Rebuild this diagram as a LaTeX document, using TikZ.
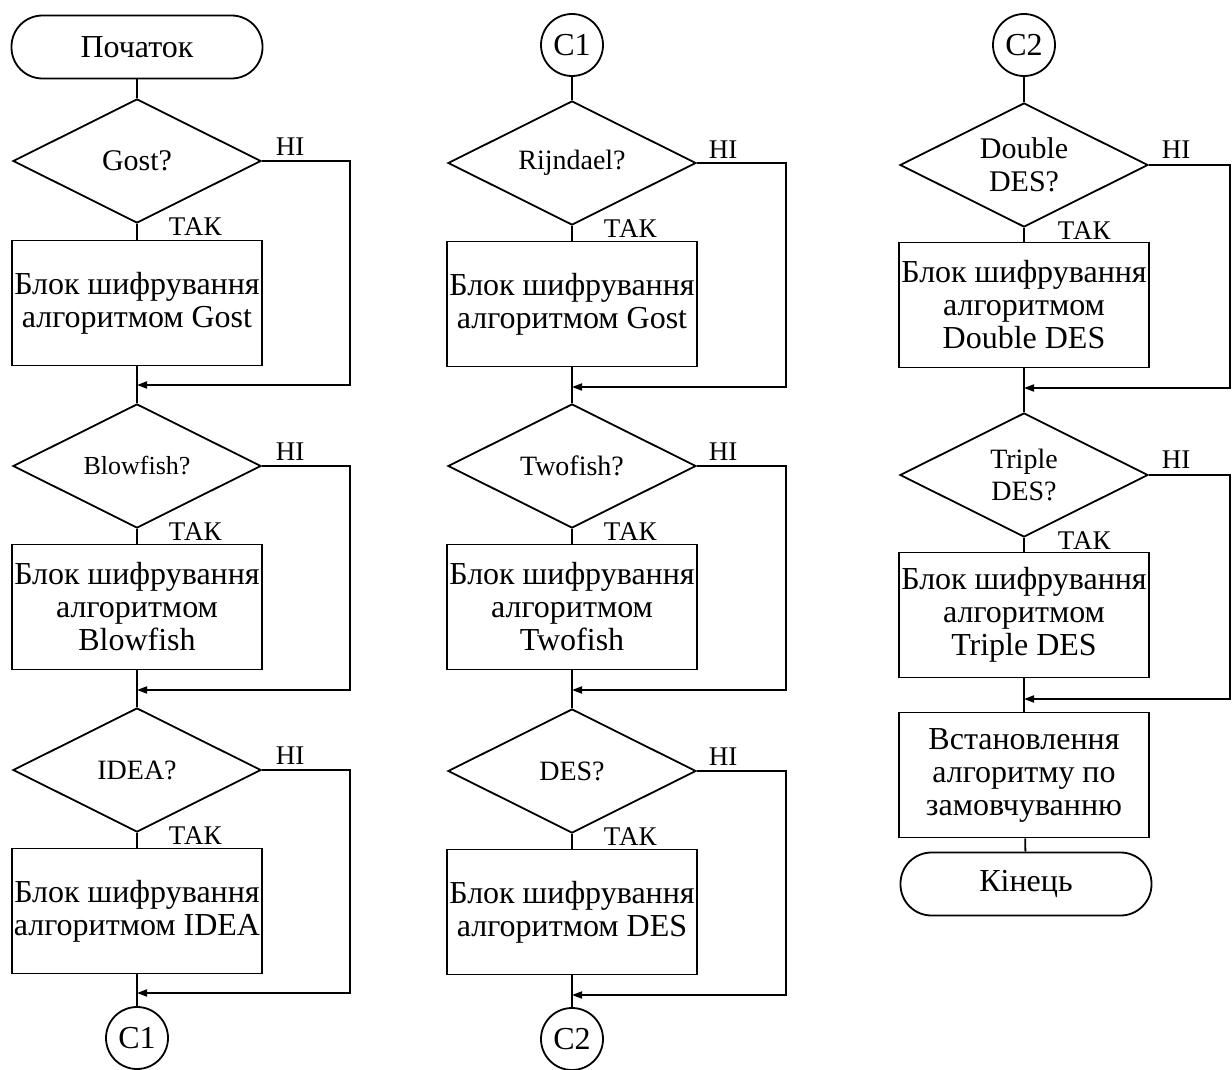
\documentclass[tikz,border=0pt]{standalone}
\usepackage{fontspec}
\setmainfont{Liberation Serif}
\usetikzlibrary{arrows.meta, positioning, shapes.geometric}

\begin{document}
\begin{tikzpicture}[x=1pt, y=-1pt, line width=1.8pt,
  every node/.style={font=\fontsize{32}{33}\selectfont, align=center},
  term/.style={draw, rectangle, rounded corners=31pt, minimum width=251pt, minimum height=63pt},
  decide/.style={draw, diamond, aspect=2, inner sep=0pt, minimum width=248pt, minimum height=124pt, font=\fontsize{28}{32}\selectfont},
  small/.style={font=\fontsize{26}{30}\selectfont},
  large/.style={font=\fontsize{30}{33}\selectfont},
  block/.style={draw, rectangle, minimum width=250pt, minimum height=125pt, inner sep=1pt},
  conn/.style={draw, circle, minimum size=62pt, inner sep=0pt},
  lbl/.style={font=\fontsize{27}{27}\selectfont, inner sep=0pt, anchor=west},
  arr/.style={-{Triangle[length=10pt, width=7pt]}}]
  \useasboundingbox (0,0) rectangle (1232,1070);
  \coordinate (rail1) at (350,0);
  \coordinate (rail2) at (786,0);
  \coordinate (rail3) at (1230,0);

  % first column
  \node[term] (start) at (137,47) {Початок};
  \node[decide, large] (gost) at (137,161) {Gost?};
  \node[block] (bgost) at (137,303) {Блок шифрування\\алгоритмом Gost};
  \coordinate (j1) at (137,385);
  \node[decide, small] (blow) at (137,466) {Blowfish?};
  \node[block] (bblow) at (137,607) {Блок шифрування\\алгоритмом\\Blowfish};
  \coordinate (j2) at (137,690);
  \node[decide] (idea) at (137,770) {IDEA?};
  \node[block] (bidea) at (137,911) {Блок шифрування\\алгоритмом IDEA};
  \coordinate (j3) at (137,993);
  \node[conn] (c1out) at (137,1038) {C1};

  % second column
  \node[conn] (c1in) at (572,45) {C1};
  \node[decide] (rijn) at (572,163) {Rijndael?};
  \node[block] (brijn) at (572,304) {Блок шифрування\\алгоритмом Gost};
  \coordinate (j4) at (572,387);
  \node[decide] (two) at (572,466) {Twofish?};
  \node[block] (btwo) at (572,607) {Блок шифрування\\алгоритмом\\Twofish};
  \coordinate (j5) at (572,690);
  \node[decide] (des) at (572,771) {DES?};
  \node[block] (bdes) at (572,912) {Блок шифрування\\алгоритмом DES};
  \coordinate (j6) at (572,995);
  \node[conn] (c2out) at (572,1039) {C2};

  % third column
  \node[conn] (c2in) at (1024,45) {C2};
  \node[decide, large] (ddes) at (1024,165) {Double\\DES?};
  \node[block] (bddes) at (1024,305) {Блок шифрування\\алгоритмом\\Double DES};
  \coordinate (j7) at (1024,388);
  \node[decide] (tdes) at (1024,475) {Triple\\DES?};
  \node[block] (btdes) at (1024,615) {Блок шифрування\\алгоритмом\\Triple DES};
  \coordinate (j8) at (1024,699);
  \node[block] (dflt) at (1024,775) {Встановлення\\алгоритму по\\замовчуванню};
  \node[term] (stop) at (1026,884) {Кінець};

  % yes / no labels
  \node[lbl] at ([xshift=31pt, yshift=-3pt]gost.south) {ТАК};
  \node[lbl] at ([xshift=13pt, yshift=14pt]gost.east) {НІ};
  \node[lbl] at ([xshift=31pt, yshift=-3pt]blow.south) {ТАК};
  \node[lbl] at ([xshift=13pt, yshift=14pt]blow.east) {НІ};
  \node[lbl] at ([xshift=31pt, yshift=-3pt]idea.south) {ТАК};
  \node[lbl] at ([xshift=13pt, yshift=14pt]idea.east) {НІ};
  \node[lbl] at ([xshift=31pt, yshift=-3pt]rijn.south) {ТАК};
  \node[lbl] at ([xshift=11pt, yshift=13pt]rijn.east) {НІ};
  \node[lbl] at ([xshift=31pt, yshift=-3pt]two.south) {ТАК};
  \node[lbl] at ([xshift=11pt, yshift=14pt]two.east) {НІ};
  \node[lbl] at ([xshift=31pt, yshift=-3pt]des.south) {ТАК};
  \node[lbl] at ([xshift=11pt, yshift=14pt]des.east) {НІ};
  \node[lbl] at ([xshift=33pt, yshift=-3pt]ddes.south) {ТАК};
  \node[lbl] at ([xshift=12pt, yshift=15pt]ddes.east) {НІ};
  \node[lbl] at ([xshift=33pt, yshift=-3pt]tdes.south) {ТАК};
  \node[lbl] at ([xshift=12pt, yshift=15pt]tdes.east) {НІ};

  % main flow
  \draw (start) -- (gost);
  \draw (gost) -- (bgost);
  \draw (bgost) -- (blow);
  \draw (blow) -- (bblow);
  \draw (bblow) -- (idea);
  \draw (idea) -- (bidea);
  \draw (bidea) -- (c1out);
  \draw (c1in) -- (rijn);
  \draw (rijn) -- (brijn);
  \draw (brijn) -- (two);
  \draw (two) -- (btwo);
  \draw (btwo) -- (des);
  \draw (des) -- (bdes);
  \draw (bdes) -- (c2out);
  \draw (c2in) -- (ddes);
  \draw (ddes) -- (bddes);
  \draw (bddes) -- (tdes);
  \draw (tdes) -- (btdes);
  \draw (btdes) -- (dflt);
  \draw (dflt) -- (stop);

  % bypass lines
  \draw[arr] (gost.east) -- (gost.east -| rail1) |- (j1);
  \draw[arr] (blow.east) -- (blow.east -| rail1) |- (j2);
  \draw[arr] (idea.east) -- (idea.east -| rail1) |- (j3);
  \draw[arr] (rijn.east) -- (rijn.east -| rail2) |- (j4);
  \draw[arr] (two.east) -- (two.east -| rail2) |- (j5);
  \draw[arr] (des.east) -- (des.east -| rail2) |- (j6);
  \draw[arr] (ddes.east) -- (ddes.east -| rail3) |- (j7);
  \draw[arr] (tdes.east) -- (tdes.east -| rail3) |- (j8);
\end{tikzpicture}
\end{document}
